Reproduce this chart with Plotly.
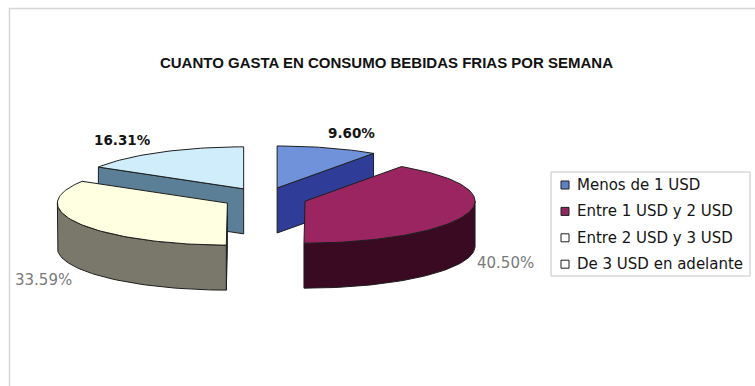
import numpy as np
import plotly.graph_objects as go

# ---- data -------------------------------------------------------------
categories = ["Menos de 1 USD", "Entre 1 USD y 2 USD",
              "Entre 2 USD y 3 USD", "De 3 USD en adelante"]
shares = [9.60, 40.50, 33.59, 16.31]          # percent of respondents
title_text = "CUANTO GASTA EN CONSUMO BEBIDAS FRIAS POR SEMANA"

# ---- styling ----------------------------------------------------------
top_colors = ["#6f92db", "#9b2561", "#ffffe2", "#d0edfb"]
side_colors = ["#2f3d98", "#3a0a22", "#7a786a", "#5a7f96"]
key_colors = ["#5f80c6", "#8e2a5e", "#ffffff", "#ffffff"]
edge_color = "#1e1e1e"

W, H = 755, 386
# 3-D pie geometry (pixel space of the plot area)
CX, CY = 264.5, 198.0      # pie centre (top face)
RX, RY = 170.0, 42.0       # ellipse radii of the tilted disc
DEPTH = 45.0               # thickness of the disc
EXPLODE = 0.25             # radial offset of each slice (fraction of radius)

# data-label placement and look
label_xy = [(351, 133), (505, 263), (43, 280), (122, 140)]
label_bold = [True, False, False, True]

# legend box
LEG_X0, LEG_Y0, LEG_X1, LEG_Y1 = 551, 172, 750, 276
LEG_ROW0, LEG_ROW_GAP = 185.0, 26.4
LEG_KEY_X, LEG_TEXT_X = 565, 575


def rim(ax, ay, th, dy=0.0):
    t = np.radians(th)
    return ax + RX * np.sin(t), ay - RY * np.cos(t) + dy


def arc(ax, ay, a, b, dy=0.0, n=60):
    th = np.linspace(a, b, max(2, int(n * (b - a) / 90) + 2))
    x, y = rim(ax, ay, th, dy)
    return list(x), list(y)


fig = go.Figure()

total = sum(shares)
bounds = np.concatenate([[0], np.cumsum(shares)]) / total * 360.0
slices = []
for i, v in enumerate(shares):
    th0, th1 = bounds[i], bounds[i + 1]
    mid = np.radians((th0 + th1) / 2)
    ax = CX + EXPLODE * RX * np.sin(mid)
    ay = CY - EXPLODE * RY * np.cos(mid)
    slices.append((i, th0, th1, ax, ay))


def face(xs, ys, color, name):
    fig.add_trace(go.Scatter(
        x=xs + [xs[0]], y=ys + [ys[0]], mode="lines", fill="toself",
        fillcolor=color, line=dict(color=edge_color, width=1),
        hoverinfo="text", text=name, showlegend=False))


# back slices first so that nearer ones overlap them
for i, th0, th1, ax, ay in sorted(slices, key=lambda s: s[4]):
    name = f"{categories[i]}: {shares[i]:.2f}%"
    # radial cut faces that turn toward the viewer
    for th, visible in ((th0, np.sin(np.radians(th0)) < -1e-6),
                        (th1, np.sin(np.radians(th1)) > 1e-6)):
        if visible:
            px, py = rim(ax, ay, th)
            face([ax, float(px), float(px), ax],
                 [ay, float(py), float(py) + DEPTH, ay + DEPTH],
                 side_colors[i], name)
    # curved outer wall on the front half
    a, b = max(th0, 90.0), min(th1, 270.0)
    if a < b:
        xt, yt = arc(ax, ay, a, b)
        xb, yb = arc(ax, ay, a, b, DEPTH)
        face(xt + xb[::-1], yt + yb[::-1], side_colors[i], name)
    # top face
    xt, yt = arc(ax, ay, th0, th1)
    face([ax] + xt, [ay] + yt, top_colors[i], name)

# data labels
for i, v in enumerate(shares):
    lx, ly = label_xy[i]
    fig.add_annotation(
        x=lx, y=ly, text=f"{v:.2f}%", showarrow=False,
        xanchor="center", yanchor="middle",
        font=dict(family="DejaVu Sans", size=13.5 if label_bold[i] else 15,
                  color="#151515" if label_bold[i] else "#7a7a7a",
                  weight="bold" if label_bold[i] else "normal"))

# legend keys and entries
rows = [LEG_ROW0 + k * LEG_ROW_GAP for k in range(len(categories))]
fig.add_trace(go.Scatter(
    x=[LEG_KEY_X] * len(categories), y=rows, mode="markers",
    marker=dict(symbol="square", size=8, color=key_colors,
                line=dict(color=edge_color, width=1)),
    hoverinfo="skip", showlegend=False))
for k, cat in enumerate(categories):
    fig.add_annotation(
        x=LEG_TEXT_X, y=rows[k], text=cat, showarrow=False,
        xanchor="left", yanchor="middle",
        font=dict(family="DejaVu Sans", size=15, color="#141414"))

shapes = [
    # chart-area frame (top and left edges)
    dict(type="line", x0=9, x1=W + 5, y0=8.5, y1=8.5,
         line=dict(color="#d6d6d6", width=1.5)),
    dict(type="line", x0=9.5, x1=9.5, y0=8, y1=H + 5,
         line=dict(color="#d6d6d6", width=1.5)),
    # legend border
    dict(type="rect", x0=LEG_X0, x1=LEG_X1, y0=LEG_Y0, y1=LEG_Y1,
         line=dict(color="#c4c4c4", width=1), fillcolor="rgba(0,0,0,0)",
         layer="below"),
]

fig.update_layout(
    width=W, height=H,
    margin=dict(l=0, r=0, t=0, b=0),
    paper_bgcolor="white", plot_bgcolor="white",
    showlegend=False,
    title=dict(text=title_text, x=386.5 / W, y=1 - 63 / H,
               xanchor="center", yanchor="middle", xref="paper",
               yref="container",
               font=dict(family="Liberation Sans", size=15, color="#111111",
                         weight="bold")),
    xaxis=dict(range=[0, W], visible=False, fixedrange=True),
    yaxis=dict(range=[H, 0], visible=False, fixedrange=True),
    shapes=shapes,
)

fig.write_html("out.html")
